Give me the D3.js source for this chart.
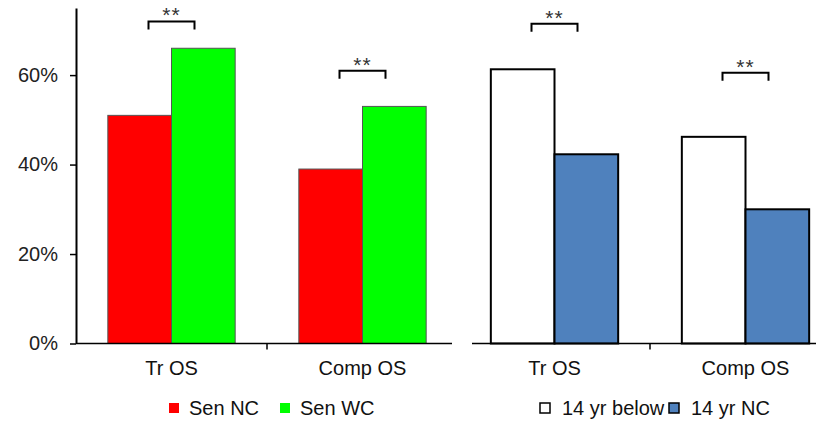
<!DOCTYPE html>
<html>
<head>
<meta charset="utf-8">
<script src="https://cdn.jsdelivr.net/npm/d3@7"></script>
<style>
  body { margin: 0; background: #fff; }
  svg { display: block; font-family: "Liberation Sans", Arial, sans-serif; }
</style>
</head>
<body>
<svg class="chart" width="816" height="422"></svg>
<script>
const categories = ["Tr OS", "Comp OS"];

// left panel
const senSeries = ["Sen NC", "Sen WC"];
const senNC = [51, 39];
const senWC = [66, 53];
const senSig = [72, 61];

// right panel
const ageSeries = ["14 yr below", "14 yr NC"];
const ageBelow = [61.3, 46.2];
const ageNC = [42.3, 30];
const ageSig = [71.5, 60.5];

const yTicks = [0, 20, 40, 60];

const svg = d3.select('svg.chart');
const baseY = 343.5;

const y = d3.scaleLinear()
  .domain([0, 75])
  .range([baseY, 8]);

function panel(opts){
  const g = svg.append('g');

  const x0 = d3.scaleBand()
    .domain(categories)
    .range(opts.range)
    .paddingInner(0)
    .paddingOuter(0);

  const x1 = d3.scaleBand()
    .domain(opts.series)
    .range([0, x0.bandwidth()])
    .paddingOuter(0.5);

  const rows = categories.map((c, i) => ({
    cat: c,
    vals: opts.series.map((s, j) => ({key: s, value: opts.values[j][i]}))
  }));

  const groups = g.selectAll('g.grp')
    .data(rows)
    .enter()
    .append('g')
    .attr('class', 'grp')
    .attr('transform', d => `translate(${x0(d.cat)},0)`);

  groups.selectAll('rect')
    .data(d => d.vals)
    .enter()
    .append('rect')
    .attr('x', d => x1(d.key))
    .attr('y', d => y(d.value))
    .attr('width', x1.bandwidth())
    .attr('height', d => baseY - y(d.value))
    .style('fill', (d, i) => opts.colors[i])
    .style('stroke', opts.stroke)
    .style('stroke-width', opts.strokeWidth);

  // x axis line + divider tick
  g.append('line')
    .attr('x1', opts.lineStart).attr('x2', opts.lineEnd)
    .attr('y1', baseY).attr('y2', baseY)
    .style('stroke', '#000').style('stroke-width', 1.5);

  const divX = x0(categories[1]);
  g.append('line')
    .attr('x1', divX).attr('x2', divX)
    .attr('y1', baseY).attr('y2', baseY + 6)
    .style('stroke', '#000').style('stroke-width', 1.5);

  // category labels
  g.selectAll('text.cat')
    .data(categories)
    .enter()
    .append('text')
    .attr('class', 'cat')
    .attr('x', d => x0(d) + x0.bandwidth() / 2)
    .attr('y', 375)
    .attr('text-anchor', 'middle')
    .style('font-size', '20px')
    .style('fill', '#111')
    .text(d => d);

  // significance brackets
  const sig = g.selectAll('g.sig')
    .data(categories.map((c, i) => ({cat: c, level: opts.sig[i]})))
    .enter()
    .append('g')
    .attr('class', 'sig');

  sig.append('path')
    .attr('d', d => {
      const cx = x0(d.cat) + x0.bandwidth() / 2;
      const yy = y(d.level);
      return `M${cx - 23},${yy + 8}V${yy}H${cx + 23}V${yy + 8}`;
    })
    .style('fill', 'none')
    .style('stroke', '#000')
    .style('stroke-width', 2);

  sig.append('text')
    .attr('x', d => x0(d.cat) + x0.bandwidth() / 2)
    .attr('y', d => y(d.level) + 1)
    .attr('text-anchor', 'middle')
    .style('font-size', '21px')
    .style('letter-spacing', '1px')
    .style('fill', '#333')
    .text('**');

  // legend
  const leg = g.selectAll('g.leg')
    .data(opts.series)
    .enter()
    .append('g')
    .attr('class', 'leg')
    .attr('transform', (d, i) => `translate(${opts.legendX[i]}, 403)`);

  leg.append('rect')
    .attr('width', 10).attr('height', 10)
    .style('fill', (d, i) => opts.colors[i])
    .style('stroke', opts.legendStroke)
    .style('stroke-width', opts.legendStrokeWidth);

  leg.append('text')
    .attr('x', opts.legendGap)
    .attr('y', 11.5)
    .style('font-size', '20px')
    .style('fill', '#111')
    .text(d => d);

  return g;
}

panel({
  range: [76, 458],
  series: senSeries,
  values: [senNC, senWC],
  sig: senSig,
  colors: ['#FF0000', '#00FF00'],
  stroke: '#555',
  strokeWidth: 1,
  lineStart: 76,
  lineEnd: 452,
  legendX: [169, 280],
  legendGap: 20,
  legendStroke: 'none',
  legendStrokeWidth: 0
});

panel({
  range: [459, 841],
  series: ageSeries,
  values: [ageBelow, ageNC],
  sig: ageSig,
  colors: ['#FFFFFF', '#4F81BD'],
  stroke: '#000',
  strokeWidth: 2,
  lineStart: 472,
  lineEnd: 841,
  legendX: [540, 669],
  legendGap: 22,
  legendStroke: '#000',
  legendStrokeWidth: 1.5
});

// y axis (left panel only)
const yAxis = d3.axisLeft(y)
  .tickValues(yTicks)
  .tickFormat(d => d + '%')
  .tickSize(6)
  .tickSizeOuter(0)
  .tickPadding(12);

const yG = svg.append('g')
  .attr('transform', 'translate(76,0)')
  .call(yAxis);

yG.select('.domain').style('stroke-width', 2);
yG.selectAll('.tick line').style('stroke-width', 1.5);
yG.selectAll('.tick text')
  .style('font-size', '20px')
  .style('font-family', '"Liberation Sans", Arial, sans-serif')
  .style('fill', '#222');
</script>
</body>
</html>
